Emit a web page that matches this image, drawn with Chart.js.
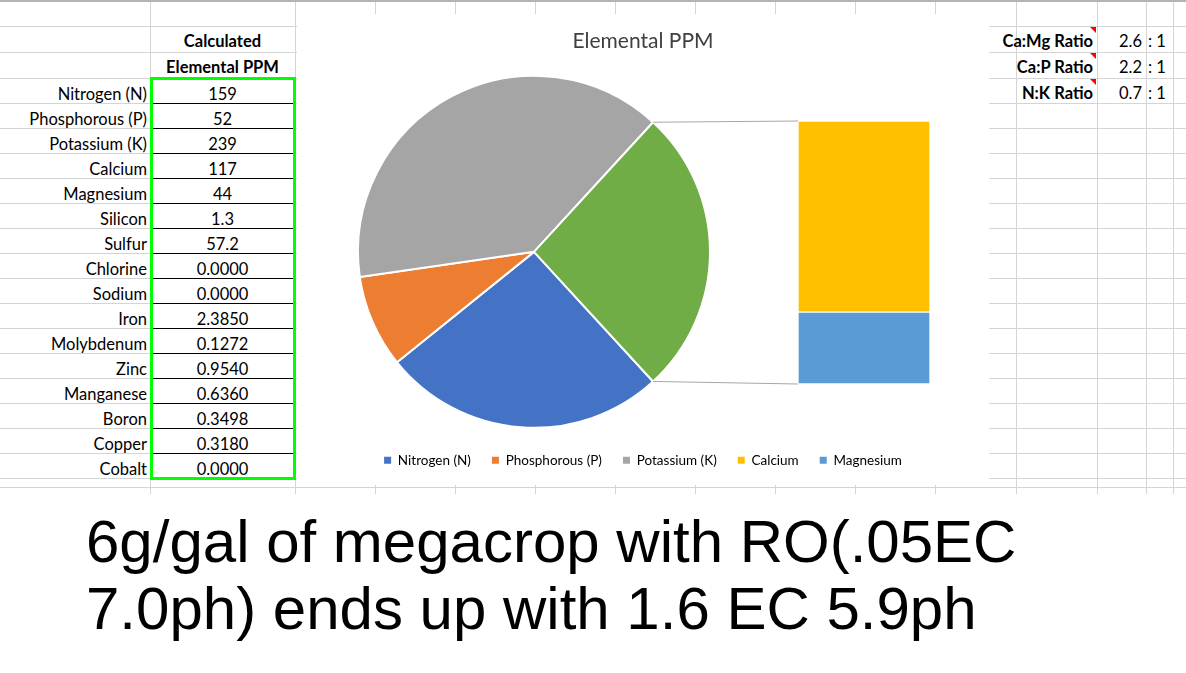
<!DOCTYPE html>
<html>
<head>
<meta charset="utf-8">
<title>Elemental PPM</title>
<script src="https://cdn.jsdelivr.net/npm/chart.js@4.4.1/dist/chart.umd.min.js"></script>
<style>
  body { margin: 0; width: 1186px; height: 673px; position: relative; overflow: hidden; background: #fff; font-family: Lato, "Open Sans", sans-serif; }
  .line { position: absolute; background: #d4d4d4; }
  .cell { position: absolute; height: 25px; line-height: 25px; font-size: 16.5px; white-space: nowrap; color: #000; z-index: 1; }
  .bold { font-weight: bold; }
  .tri { position: absolute; width: 6px; height: 6px; background: #f00; clip-path: polygon(0 0, 100% 0, 100% 100%); z-index: 2; }
  #box { position: absolute; left: 150px; top: 77px; width: 146px; height: 403px; border: 3px solid #00ff00; box-sizing: border-box; z-index: 3; }
  #chartBox { position: absolute; left: 297px; top: 14px; width: 692px; height: 471px; background: #fff; z-index: 5; }
  #barBox { position: absolute; left: 798px; top: 121px; width: 132px; height: 263px; z-index: 6; }
  #note { position: absolute; left: 86px; top: 508px; font-family: "Liberation Sans", Arial, sans-serif; font-size: 60px; line-height: 67px; color: #000; white-space: nowrap; }
</style>
</head>
<body>
<div id="sheet"></div>
<div id="box"></div>
<div id="chartBox"><canvas id="pie"></canvas></div>
<div id="barBox"><canvas id="bar"></canvas></div>
<div id="note">6g/gal of megacrop with RO(.05EC<br>7.0ph) ends up with 1.6 EC 5.9ph</div>
<script>
// table values
const elements = ['Nitrogen (N)', 'Phosphorous (P)', 'Potassium (K)', 'Calcium', 'Magnesium', 'Silicon', 'Sulfur',
  'Chlorine', 'Sodium', 'Iron', 'Molybdenum', 'Zinc', 'Manganese', 'Boron', 'Copper', 'Cobalt'];
const ppm = ['159', '52', '239', '117', '44', '1.3', '57.2', '0.0000', '0.0000', '2.3850', '0.1272',
  '0.9540', '0.6360', '0.3498', '0.3180', '0.0000'];
const ratioLabels = ['Ca:Mg Ratio', 'Ca:P Ratio', 'N:K Ratio'];
const ratioValues = ['2.6', '2.2', '0.7'];

// chart values
const pieLabels = ['Nitrogen (N)', 'Phosphorous (P)', 'Potassium (K)', 'Other'];
const pieValues = [159, 52, 239];
const barLabels = ['Calcium', 'Magnesium'];
const barValues = [117, 44];
const pieColors = ['#4472c4', '#ed7d31', '#a5a5a5', '#70ad47'];
const barColors = ['#ffc000', '#5b9bd5'];

/* spreadsheet behind the chart */
const sheet = document.getElementById('sheet');
function add(cls, css, text) {
  const d = document.createElement('div');
  d.className = cls;
  Object.assign(d.style, css);
  if (text !== undefined) d.textContent = text;
  sheet.appendChild(d);
  return d;
}
const cols = [150, 295, 375, 455, 535, 615, 695, 775, 855, 935, 1016, 1097, 1146, 1173];
const rows = [26, 52];
for (let y = 78; y <= 478; y += 25) rows.push(y);
cols.forEach(x => add('line', {left: x + 'px', top: '0px', width: '1px', height: '494px'}));
rows.forEach(y => add('line', {left: '0px', top: y + 'px', width: '1186px', height: '1px'}));
add('line', {left: '0px', top: '487px', width: '1186px', height: '1px'});
add('line', {left: '0px', top: '0px', width: '1186px', height: '2px', background: '#b4b4b4'});

add('cell bold', {left: '150px', width: '145px', top: '29px', textAlign: 'center'}, 'Calculated');
add('cell bold', {left: '150px', width: '145px', top: '55px', textAlign: 'center'}, 'Elemental PPM');
elements.forEach((name, i) => {
  const top = 78 + 25 * i;
  add('cell', {right: (1186 - 147) + 'px', top: (top + 4) + 'px'}, name);
  add('cell', {left: '150px', width: '145px', top: (top + 4) + 'px', textAlign: 'center'}, ppm[i]);
  if (i > 0) add('line', {left: '152px', top: top + 'px', width: '141px', height: '1px', background: '#000', zIndex: 2});
});
const ratioRows = [26, 52, 78];
ratioLabels.forEach((name, i) => {
  const top = ratioRows[i];
  add('cell bold', {right: (1186 - 1093) + 'px', top: (top + 3) + 'px'}, name);
  add('cell', {right: (1186 - 1142) + 'px', top: (top + 3) + 'px'}, ratioValues[i]);
  add('cell', {left: '1148px', top: (top + 3) + 'px'}, ': 1');
  add('tri', {left: '1090px', top: (top + 1) + 'px'});
});

/* bar of pie chart */
const other = barValues[0] + barValues[1];
const total = pieValues.reduce((a, b) => a + b, 0) + other;

const barChart = new Chart(document.getElementById('bar'), {
  type: 'bar',
  data: {
    labels: ['Other'],
    datasets: [
      {label: barLabels[1], data: [barValues[1]], backgroundColor: barColors[1]},
      {label: barLabels[0], data: [barValues[0]], backgroundColor: barColors[0]}
    ]
  },
  options: {
    responsive: true,
    maintainAspectRatio: false,
    animation: false,
    events: [],
    datasets: {bar: {barPercentage: 1, categoryPercentage: 1, borderColor: '#fff', borderWidth: 1, borderSkipped: false}},
    scales: {
      x: {display: false, stacked: true},
      y: {display: false, stacked: true, min: 0, max: other}
    },
    plugins: {legend: {display: false}, tooltip: {enabled: false}}
  }
});

// squeeze the pie to the left and draw the lines to the bar
const connectors = {
  id: 'connectors',
  afterLayout(chart, args, opts) {
    const a = chart.chartArea;
    a.right -= opts.shrink;
    a.width = a.right - a.left;
  },
  afterDraw(chart) {
    const arc = chart.getDatasetMeta(0).data[3];
    const {x, y, startAngle, endAngle, outerRadius} = arc.getProps(['x', 'y', 'startAngle', 'endAngle', 'outerRadius'], true);
    const pr = chart.canvas.getBoundingClientRect();
    const br = barChart.canvas.getBoundingClientRect();
    const dx = br.left - pr.left, dy = br.top - pr.top;
    const topBar = barChart.getDatasetMeta(1).data[0];
    const botBar = barChart.getDatasetMeta(0).data[0];
    const ctx = chart.ctx;
    ctx.save();
    ctx.strokeStyle = '#a6a6a6';
    ctx.lineWidth = 1;
    ctx.beginPath();
    ctx.moveTo(x + outerRadius * Math.cos(startAngle), y + outerRadius * Math.sin(startAngle));
    ctx.lineTo(dx + topBar.x - topBar.width / 2, dy + topBar.y);
    ctx.moveTo(x + outerRadius * Math.cos(endAngle), y + outerRadius * Math.sin(endAngle));
    ctx.lineTo(dx + botBar.x - botBar.width / 2, dy + botBar.base);
    ctx.stroke();
    ctx.restore();
  }
};

const legendNames = pieLabels.slice(0, 3).concat(barLabels);
const legendColors = pieColors.slice(0, 3).concat(barColors);

new Chart(document.getElementById('pie'), {
  type: 'pie',
  data: {
    labels: pieLabels,
    datasets: [{
      data: pieValues.concat([other]),
      backgroundColor: pieColors,
      borderColor: '#fff',
      borderWidth: 2
    }]
  },
  options: {
    responsive: true,
    maintainAspectRatio: false,
    animation: false,
    events: [],
    rotation: 90 + 180 * other / total,
    radius: 176,
    layout: {padding: {bottom: 8}},
    plugins: {
      connectors: {shrink: 218},
      title: {
        display: true,
        text: 'Elemental PPM',
        color: '#404040',
        font: {family: 'Lato', size: 21, weight: 'normal'},
        padding: {top: 15, bottom: 17}
      },
      legend: {
        position: 'bottom',
        labels: {
          boxWidth: 7,
          boxHeight: 7,
          padding: 21,
          color: '#595959',
          font: {family: 'Lato', size: 13.5},
          generateLabels: () => legendNames.map((t, i) => ({
            text: t, fillStyle: legendColors[i], strokeStyle: legendColors[i], lineWidth: 0, hidden: false, index: i
          }))
        }
      },
      tooltip: {enabled: false}
    }
  },
  plugins: [connectors]
});
</script>
</body>
</html>
